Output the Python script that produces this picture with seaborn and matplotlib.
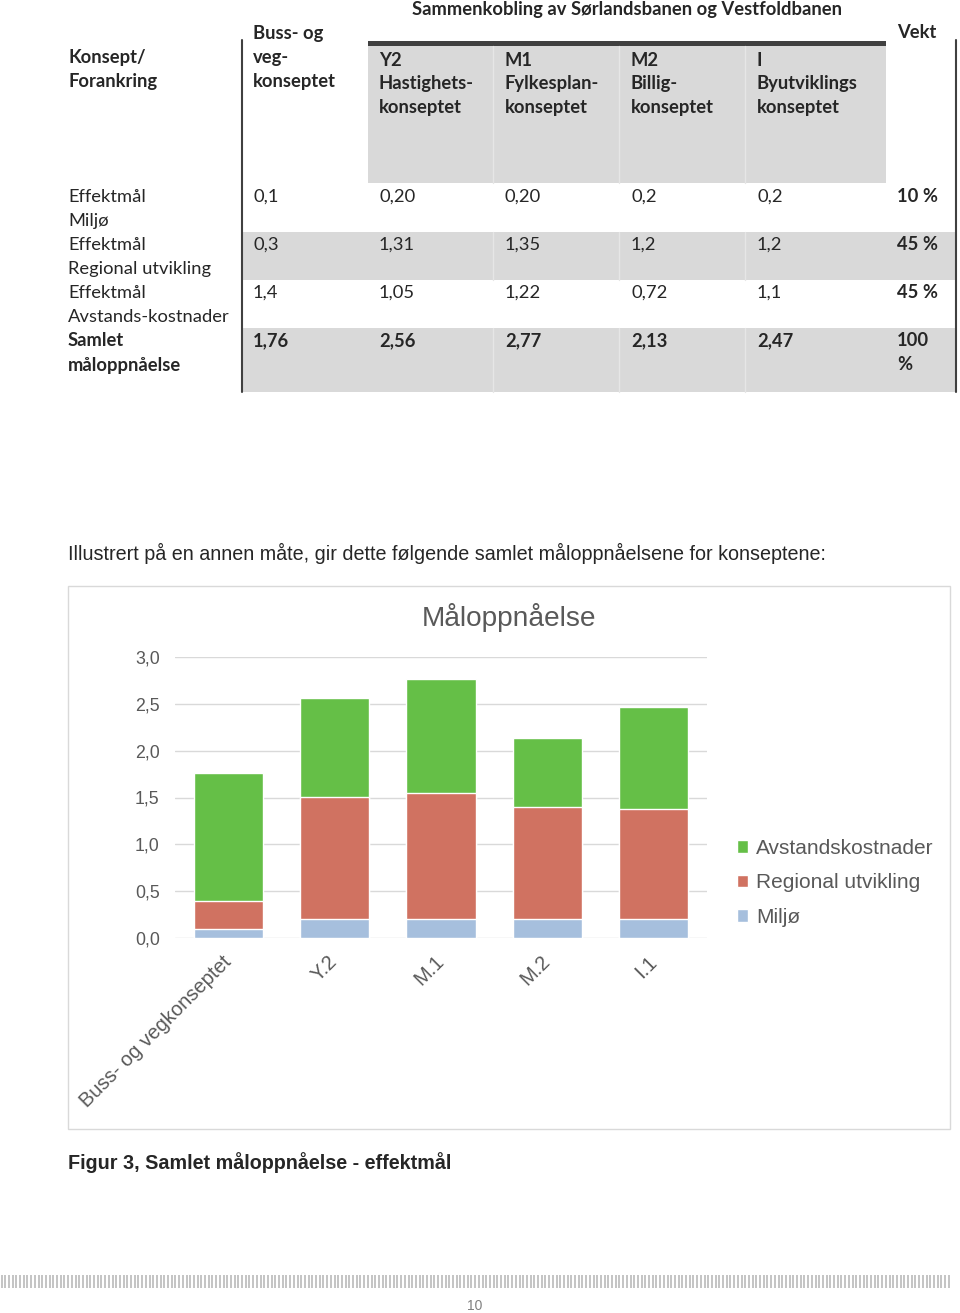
import matplotlib
matplotlib.use("Agg")
import matplotlib.pyplot as plt
from matplotlib.patches import Rectangle
from matplotlib.lines import Line2D
import seaborn as sns
import pandas as pd
import numpy as np

# --- table content ---
row_labels = [("Effektmål", "Miljø"), ("Effektmål", "Regional utvikling"),
              ("Effektmål", "Avstands-kostnader"), ("Samlet", "måloppnåelse")]
col_buss = ["0,1", "0,3", "1,4", "1,76"]
col_y2 = ["0,20", "1,31", "1,05", "2,56"]
col_m1 = ["0,20", "1,35", "1,22", "2,77"]
col_m2 = ["0,2", "1,2", "0,72", "2,13"]
col_i1 = ["0,2", "1,2", "1,1", "2,47"]
col_vekt = ["10 %", "45 %", "45 %", "100\n%"]
sub_heads = ["Y2\nHastighets-\nkonseptet", "M1\nFylkesplan-\nkonseptet",
             "M2\nBillig-\nkonseptet", "I\nByutviklings\nkonseptet"]

# --- chart data ---
concepts = ["Buss- og vegkonseptet", "Y.2", "M.1", "M.2", "I.1"]
miljo = [0.10, 0.20, 0.20, 0.20, 0.20]
regional = [0.30, 1.31, 1.35, 1.20, 1.18]
avstand = [1.36, 1.05, 1.22, 0.73, 1.09]

c_green = "#65BF47"
c_red = "#D07261"
c_blue = "#A6BFDD"

W, H = 960, 1313
sns.set_style("white")
plt.rcParams['font.family'] = ['Liberation Sans', 'DejaVu Sans']

fig = plt.figure(figsize=(W / 100, H / 100), dpi=100)


def fx(x):
    return x / W


def fy(y):
    return 1 - y / H


def rect(x0, y0, x1, y1, **kw):
    fig.add_artist(Rectangle((fx(x0), fy(y1)), fx(x1) - fx(x0), fy(y0) - fy(y1),
                             transform=fig.transFigure, **kw))


def vline(x, y0, y1, **kw):
    fig.add_artist(Line2D([fx(x), fx(x)], [fy(y0), fy(y1)], transform=fig.transFigure, **kw))


TF = ['Lato', 'DejaVu Sans']
tsize = 13.2
lh = 24

# table backgrounds
rect(368, 41, 886, 46, color="#404040", lw=0)
rect(368, 46, 886, 183, color="#d9d9d9", lw=0)
rect(243, 232, 955, 280, color="#d9d9d9", lw=0)
rect(243, 328, 955, 392, color="#d9d9d9", lw=0)
for xs in [493, 619, 745]:
    vline(xs, 46, 183, color="#e6e6e6", lw=1)
    vline(xs, 232, 280, color="#e6e6e6", lw=1)
    vline(xs, 328, 392, color="#e6e6e6", lw=1)
vline(242, 40, 392, color="#404040", lw=1.5)
vline(956, 40, 392, color="#404040", lw=1.5)

# header text
fig.text(fx(627), fy(9), "Sammenkobling av Sørlandsbanen og Vestfoldbanen", ha='center', va='center',
         family=TF, fontsize=tsize, fontweight='bold')
fig.text(fx(897), fy(33), "Vekt", ha='left', va='center', family=TF, fontsize=tsize, fontweight='bold')
for i, s in enumerate(["Buss- og", "veg-", "konseptet"]):
    fig.text(fx(253), fy(33 + i * lh), s, ha='left', va='center', family=TF, fontsize=tsize, fontweight='bold')
for i, s in enumerate(["Konsept/", "Forankring"]):
    fig.text(fx(68), fy(57 + i * lh), s, ha='left', va='center', family=TF, fontsize=tsize, fontweight='bold')
for xh, head in zip([379, 505, 631, 757], sub_heads):
    for i, s in enumerate(head.split("\n")):
        fig.text(fx(xh), fy(60 + i * lh), s, ha='left', va='center', family=TF, fontsize=tsize,
                 fontweight='bold')

# table rows
cols = [col_buss, col_y2, col_m1, col_m2, col_i1, col_vekt]
col_x = [253, 379, 505, 631, 757, 897]
for r in range(4):
    y0 = 197 + r * 48
    bold = 'bold' if r == 3 else 'normal'
    for i, s in enumerate(row_labels[r]):
        fig.text(fx(68), fy(y0 + i * lh), s, ha='left', va='center', family=TF, fontsize=tsize,
                 fontweight=bold)
    for xc, col in zip(col_x, cols):
        w = 'bold' if (r == 3 or xc == 897) else 'normal'
        for i, s in enumerate(col[r].split("\n")):
            fig.text(fx(xc), fy(y0 + i * lh), s, ha='left', va='center', family=TF, fontsize=tsize,
                     fontweight=w)

# intro sentence
fig.text(fx(68), fy(553), "Illustrert på en annen måte, gir dette følgende samlet måloppnåelsene for konseptene:",
         ha='left', va='center', fontsize=14.2)

# chart frame
rect(68, 586, 950, 1129, fill=False, edgecolor="#d9d9d9", lw=1)
fig.text(fx(509), fy(617), "Måloppnåelse", ha='center', va='center', fontsize=20.2, color="#595959")

# chart
ax = fig.add_axes([fx(175), fy(938), fx(707) - fx(175), fy(657) - fy(938)])
df = pd.DataFrame({"konsept": concepts, "Miljø": miljo, "Regional utvikling": regional,
                   "Avstandskostnader": avstand})
df["top_reg"] = df["Miljø"] + df["Regional utvikling"]
df["top_all"] = df["top_reg"] + df["Avstandskostnader"]
bw = 0.65
sns.barplot(data=df, x="konsept", y="top_all", color=c_green, width=bw, saturation=1, ax=ax,
            label="Avstandskostnader", zorder=2)
sns.barplot(data=df, x="konsept", y="top_reg", color=c_red, width=bw, saturation=1, ax=ax,
            label="Regional utvikling", zorder=2)
sns.barplot(data=df, x="konsept", y="Miljø", color=c_blue, width=bw, saturation=1, ax=ax,
            label="Miljø", zorder=2)
ax.set_ylim(0, 3)
ax.set_xlim(-0.5, 4.5)
ax.set_yticks([0, 0.5, 1, 1.5, 2, 2.5, 3])
ax.set_yticklabels(["0,0", "0,5", "1,0", "1,5", "2,0", "2,5", "3,0"])
ax.yaxis.grid(True, color="#d9d9d9", lw=1)
ax.set_axisbelow(True)
for sp in ax.spines.values():
    sp.set_visible(False)
ax.set_xlabel("")
ax.set_ylabel("")
ax.tick_params(axis='both', length=0, colors="#595959", labelsize=12.8)
ax.tick_params(axis='y', pad=11)
ax.tick_params(axis='x', pad=15)
for lab in ax.get_xticklabels():
    lab.set_rotation(45)
    lab.set_ha('right')
    lab.set_va('center')
    lab.set_rotation_mode('anchor')
    lab.set_fontsize(14.5)

leg = ax.legend(loc='upper left', bbox_to_anchor=(fx(737), fy(839)), bbox_transform=fig.transFigure,
                frameon=False, fontsize=15, handlelength=0.55, handleheight=0.55, handletextpad=0.35,
                labelspacing=0.74, borderaxespad=0, borderpad=0)
for t in leg.get_texts():
    t.set_color("#595959")

fig.text(fx(68), fy(1163), "Figur 3, Samlet måloppnåelse - effektmål", ha='left', va='center',
         fontsize=14.2, fontweight='bold')

# footer stripes
fax = fig.add_axes([0, fy(1288), fx(950), fy(1275) - fy(1288)])
fax.vlines(np.arange(1.5, 950, 3.7), 0, 1, color="#c4c4c4", lw=1.4)
fax.set_xlim(0, 950)
fax.set_ylim(0, 1)
fax.axis('off')
fig.text(fx(475), fy(1306), "10", ha='center', va='center', fontsize=10, color="#808080")

fig.savefig("out.png", dpi=100)
